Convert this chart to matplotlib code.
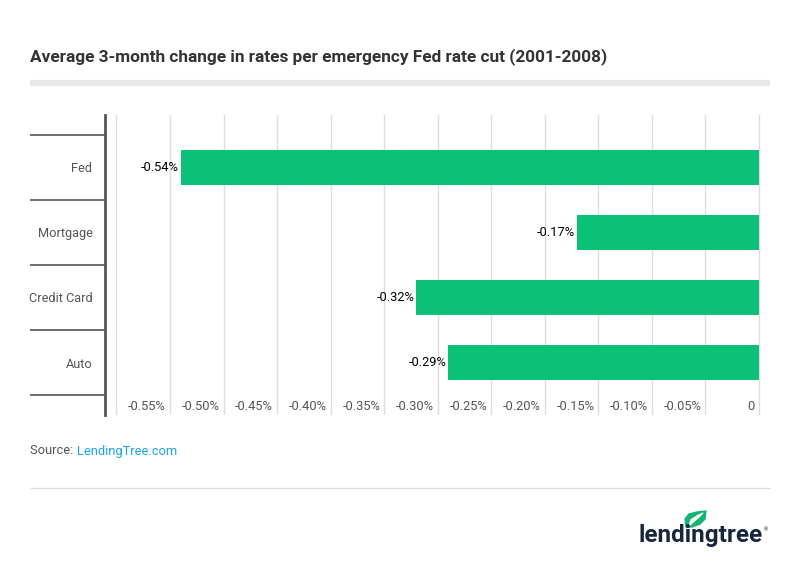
import numpy as np
import matplotlib
matplotlib.use('Agg')
import matplotlib.pyplot as plt
import matplotlib.transforms as mtransforms
from matplotlib.patches import Polygon

# data
categories = ['Fed', 'Mortgage', 'Credit Card', 'Auto']
values = [-0.54, -0.17, -0.32, -0.29]
value_labels = ['-0.54%', '-0.17%', '-0.32%', '-0.29%']
tick_values = [-0.55, -0.50, -0.45, -0.40, -0.35, -0.30, -0.25, -0.20, -0.15, -0.10, -0.05, 0]
tick_labels = ['-0.55%', '-0.50%', '-0.45%', '-0.40%', '-0.35%', '-0.30%', '-0.25%',
               '-0.20%', '-0.15%', '-0.10%', '-0.05%', '0']
grid_values = [-0.60] + tick_values

plt.rcParams['font.family'] = ['Roboto', 'DejaVu Sans']

W, H = 800, 570
fig = plt.figure(figsize=(W / 100, H / 100), dpi=100)

def fx(px):
    return px / W

def fy(py):
    return 1 - py / H

# title and grey rule
fig.text(fx(30), fy(57), 'Average 3-month change in rates per emergency Fed rate cut (2001-2008)',
         fontsize=12.4, fontweight='bold', color='#333333', va='center', ha='left')
fig.add_artist(plt.Line2D([fx(30), fx(770)], [fy(82.5), fy(82.5)], color='#e8e8e8', lw=4.5,
                          solid_capstyle='butt'))

# main axes
ax = fig.add_axes([fx(105), fy(415), fx(770) - fx(105), fy(115) - fy(415)])
ypos = np.arange(len(categories))
ax.barh(ypos, values, height=0.55, color='#0bc177', zorder=3)
ax.set_xlim(-0.6107, 0.0103)
ax.set_ylim(3.5 + 20 / 65, -0.5 - 20 / 65)

ax.set_xticks(grid_values)
ax.set_xticklabels([])
ax.grid(axis='x', color='#dddddd', lw=1, zorder=0)
ax.tick_params(axis='x', length=0)

ax.set_yticks(ypos)
ax.set_yticklabels(categories, fontsize=9.2, color='#555555')
ax.tick_params(axis='y', length=0, pad=9)

for s in ['top', 'right', 'bottom']:
    ax.spines[s].set_visible(False)
ax.spines['left'].set_color('#555555')
ax.spines['left'].set_linewidth(2)

# category separators reaching out to the left
trans = mtransforms.blended_transform_factory(ax.transAxes, ax.transData)
for b in np.arange(-0.5, len(categories), 1.0):
    ax.plot([-75 / 665, 0], [b, b], transform=trans, color='#555555', lw=1.2, clip_on=False,
            solid_capstyle='butt')

# x tick labels sit inside the plot, right-aligned to their gridline
lab_trans = mtransforms.offset_copy(ax.transData, fig=fig, x=-4, y=0, units='dots')
for v, t in zip(tick_values, tick_labels):
    ax.text(v, 3.5 + 12 / 65, t, transform=lab_trans, ha='right', va='center',
            fontsize=9.3, color='#555555')

# bar value labels
val_trans = mtransforms.offset_copy(ax.transData, fig=fig, x=-2, y=0, units='dots')
for i, (v, t) in enumerate(zip(values, value_labels)):
    ax.text(v, i, t, transform=val_trans, ha='right', va='center', fontsize=9.3,
            color='#000000')

# source line
src = fig.text(fx(30), fy(451), 'Source: ', fontsize=9.3, color='#555555', va='center', ha='left')
fig.canvas.draw()
bb = src.get_window_extent()
fig.text(bb.x1 / W, fy(451), 'LendingTree.com', fontsize=9.3, color='#1ba4e6', va='center', ha='left')

fig.add_artist(plt.Line2D([fx(30), fx(770)], [fy(488), fy(488)], color='#dddddd', lw=1,
                          solid_capstyle='butt'))

# logo
fig.text(fx(763), fy(542), 'lendingtree', fontsize=17.5, fontweight='bold', color='#17263b',
         ha='right', va='baseline')
fig.text(fx(764), fy(530), '®', fontsize=4, color='#17263b', ha='left', va='center')
leaf = [(686, 527), (685, 519), (689, 514), (697, 512), (706, 511), (705, 519), (700, 524), (692, 527)]
vein = [(689, 526), (691, 520), (697, 516), (703, 513), (698, 518), (693, 522)]
fig.add_artist(Polygon([(fx(a), fy(b)) for a, b in leaf], closed=True,
                       transform=fig.transFigure, color='#16b474'))
fig.add_artist(Polygon([(fx(a), fy(b)) for a, b in vein], closed=True,
                       transform=fig.transFigure, color='#ffffff'))

fig.savefig('out.png', dpi=100)
